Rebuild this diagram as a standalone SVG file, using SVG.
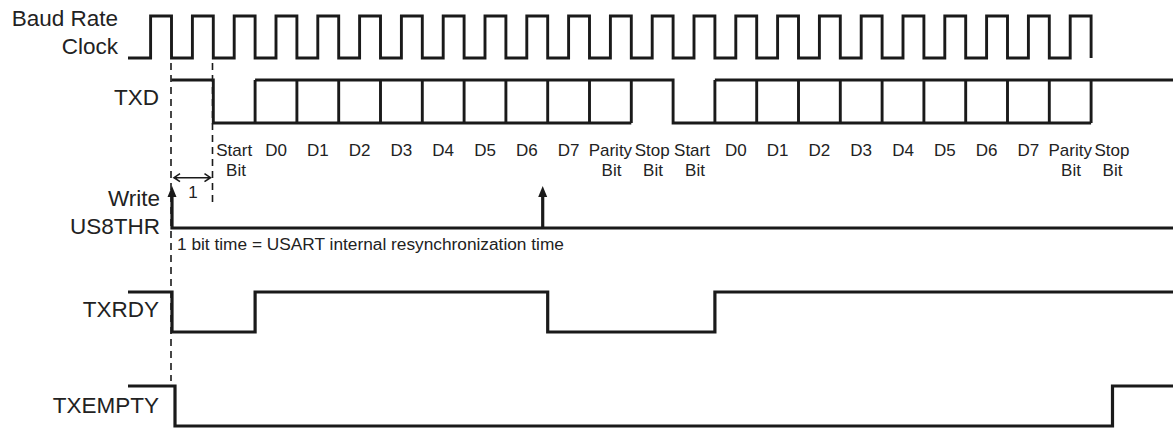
<svg xmlns="http://www.w3.org/2000/svg" width="1173" height="428" viewBox="0 0 1173 428">
<style>
.lbl{font-family:"Liberation Sans",Arial,sans-serif;font-size:22.5px;fill:#222;text-anchor:end}
.sm{font-family:"Liberation Sans",Arial,sans-serif;font-size:17px;fill:#222;text-anchor:middle}
.cap{font-family:"Liberation Sans",Arial,sans-serif;font-size:17.3px;fill:#222}
.w{fill:none;stroke:#1a1a1a;stroke-width:2.9;stroke-linejoin:miter;stroke-linecap:butt}
.t{fill:none;stroke:#1a1a1a;stroke-width:3.2;stroke-linejoin:miter}
.d{fill:none;stroke:#1a1a1a;stroke-width:1.6;stroke-dasharray:7 5}
.a{fill:none;stroke:#1a1a1a;stroke-width:1.6}
.ah{fill:#1a1a1a}
</style>
<g id="clock">
<text class="lbl" x="118" y="26">Baud Rate</text>
<text class="lbl" x="118" y="54">Clock</text>
<path class="w" d="M128,58 H150.6 v-42 h20.9 v42 h20.9 v-42 h20.9 v42 h20.9 v-42 h20.9 v42 h20.9 v-42 h20.9 v42 h20.9 v-42 h20.9 v42 h20.9 v-42 h20.9 v42 h20.9 v-42 h20.9 v42 h20.9 v-42 h20.9 v42 h20.9 v-42 h20.9 v42 h20.9 v-42 h20.9 v42 h20.9 v-42 h20.9 v42 h20.9 v-42 h20.9 v42 h20.9 v-42 h20.9 v42 h20.9 v-42 h20.9 v42 h20.9 v-42 h20.9 v42 h20.9 v-42 h20.9 v42 h20.9 v-42 h20.9 v42 h20.9 v-42 h20.9 v42 h20.9 v-42 h20.9 v42 h20.9 v-42 h20.9 v42 h20.9 v-42 h20.9 v42 h20.9 v-42 h20.9 v42 h20.9 v-42 h20.9 v42"/>
</g>
<g id="txd">
<text class="lbl" x="159" y="105">TXD</text>
<path class="w" d="M171.5,80 H213.3 V123 H631.3"/>
<path class="w" d="M255.1,80 H673.1 V123 H1091.1"/>
<path class="w" d="M714.9,80 H1173"/>
<path class="w" d="M255.1,80 V123 M296.9,80 V123 M338.7,80 V123 M380.5,80 V123 M422.3,80 V123 M464.1,80 V123 M505.9,80 V123 M547.7,80 V123 M589.5,80 V123 M631.3,80 V123 M714.9,80 V123 M756.7,80 V123 M798.5,80 V123 M840.3,80 V123 M882.1,80 V123 M923.9,80 V123 M965.7,80 V123 M1007.5,80 V123 M1049.3,80 V123 M1091.1,80 V123"/>
<g id="bit-labels">
<text class="sm" x="234.2" y="156">Start</text><text class="sm" x="236" y="176">Bit</text>
<text class="sm" x="276" y="156">D0</text>
<text class="sm" x="317.8" y="156">D1</text>
<text class="sm" x="359.6" y="156">D2</text>
<text class="sm" x="401.4" y="156">D3</text>
<text class="sm" x="443.2" y="156">D4</text>
<text class="sm" x="485" y="156">D5</text>
<text class="sm" x="526.8" y="156">D6</text>
<text class="sm" x="568.6" y="156">D7</text>
<text class="sm" x="610.4" y="156">Parity</text><text class="sm" x="611.5" y="176">Bit</text>
<text class="sm" x="652.2" y="156">Stop</text><text class="sm" x="653" y="176">Bit</text>
<text class="sm" x="692" y="156">Start</text><text class="sm" x="695" y="176">Bit</text>
<text class="sm" x="735.8" y="156">D0</text>
<text class="sm" x="777.6" y="156">D1</text>
<text class="sm" x="819.4" y="156">D2</text>
<text class="sm" x="861.2" y="156">D3</text>
<text class="sm" x="903" y="156">D4</text>
<text class="sm" x="944.8" y="156">D5</text>
<text class="sm" x="986.6" y="156">D6</text>
<text class="sm" x="1028.4" y="156">D7</text>
<text class="sm" x="1070.2" y="156">Parity</text><text class="sm" x="1071" y="176">Bit</text>
<text class="sm" x="1112" y="156">Stop</text><text class="sm" x="1112.5" y="176">Bit</text>
</g>
</g>
<g id="us8thr">
<text class="lbl" x="160" y="206">Write</text>
<text class="lbl" x="160" y="234">US8THR</text>
<path class="t" d="M172,195 V228 H1173"/>
<text class="cap" x="177" y="250">1 bit time = USART internal resynchronization time</text>
</g>
<g id="txrdy">
<text class="lbl" x="159" y="317">TXRDY</text>
<path class="t" d="M128,292 H172 V332 H255.1 V292 H547.7 V332 H714.9 V292 H1173"/>
</g>
<g id="txempty">
<text class="lbl" x="159" y="413">TXEMPTY</text>
<path class="t" d="M128,386 H175 V426 H1112.5 V386 H1173"/>
</g>
<g id="connectors">
<path class="d" d="M171,63 V381"/>
<path class="d" d="M212.5,63 V204"/>
<path class="a" d="M174,177.7 H210.5 M180,173.7 L174,177.7 L180,181.7 M204.5,173.7 L210.5,177.7 L204.5,181.7"/>
<text class="sm" x="193" y="198">1</text>
<polygon class="ah" points="172,186 176.5,197 167.5,197"/>
<path class="t" d="M542.7,196 V228"/>
<polygon class="ah" points="542.7,186 547.2,197 538.2,197"/>
</g>
</svg>
